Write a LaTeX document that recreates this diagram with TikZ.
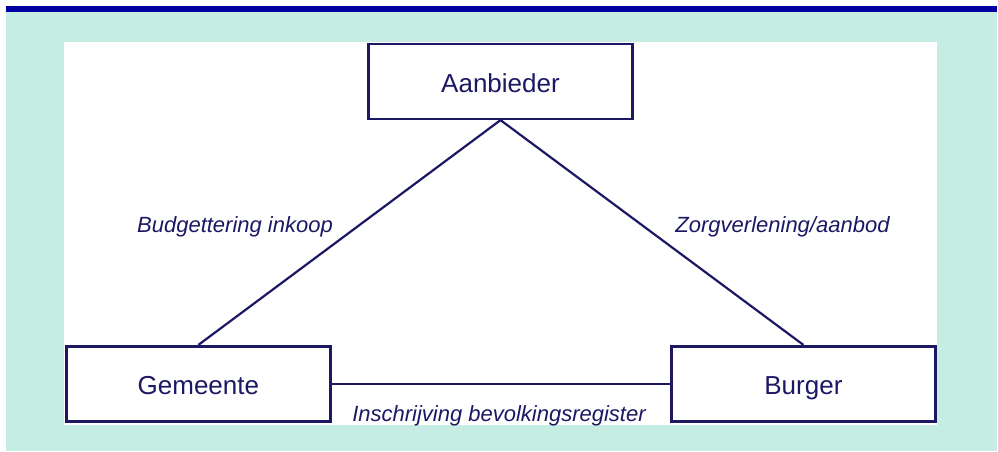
\documentclass[tikz,border=0pt]{standalone}
\usepackage{fontspec}
\setmainfont{Liberation Sans}
\definecolor{barblue}{RGB}{0,0,160}
\definecolor{mint}{RGB}{198,237,228}
\definecolor{navy}{RGB}{28,24,100}
\begin{document}
\begin{tikzpicture}[x=1pt,y=-1pt,
  box/.style={draw=navy,line width=2.6pt,fill=white,minimum width=264pt,minimum height=75pt,
    inner sep=0pt,text=navy,font=\fontsize{26}{30}\selectfont,text height=22pt,text depth=0pt},
  conn/.style={draw=navy,line width=2.2pt},
  lbl/.style={text=navy,font=\fontsize{22}{26}\selectfont\itshape,inner sep=0pt,anchor=base}]
\useasboundingbox (0,0) rectangle (998,451);
\fill[mint] (6,12) rectangle (997,451);
\fill[barblue] (6,6) rectangle (997,12);
\fill[white] (64,42) rectangle (937,425);
\node[box] (aan) at (500.5,81.3) {Aanbieder};
\node[box] (gem) at (198.4,383.7) {Gemeente};
\node[box] (bur) at (803.4,383.7) {Burger};
\draw[conn] (aan.south) -- (gem.north);
\draw[conn] (aan.south) -- (bur.north);
\draw[conn] (gem.east) -- (bur.west);
\node[lbl] (l1) at (235,232) {Budgettering inkoop};
\node[lbl] (l2) at (782.5,232) {Zorgverlening/aanbod};
\node[lbl] (l3) at (499,421) {Inschrijving bevolkingsregister};
\end{tikzpicture}
\end{document}
